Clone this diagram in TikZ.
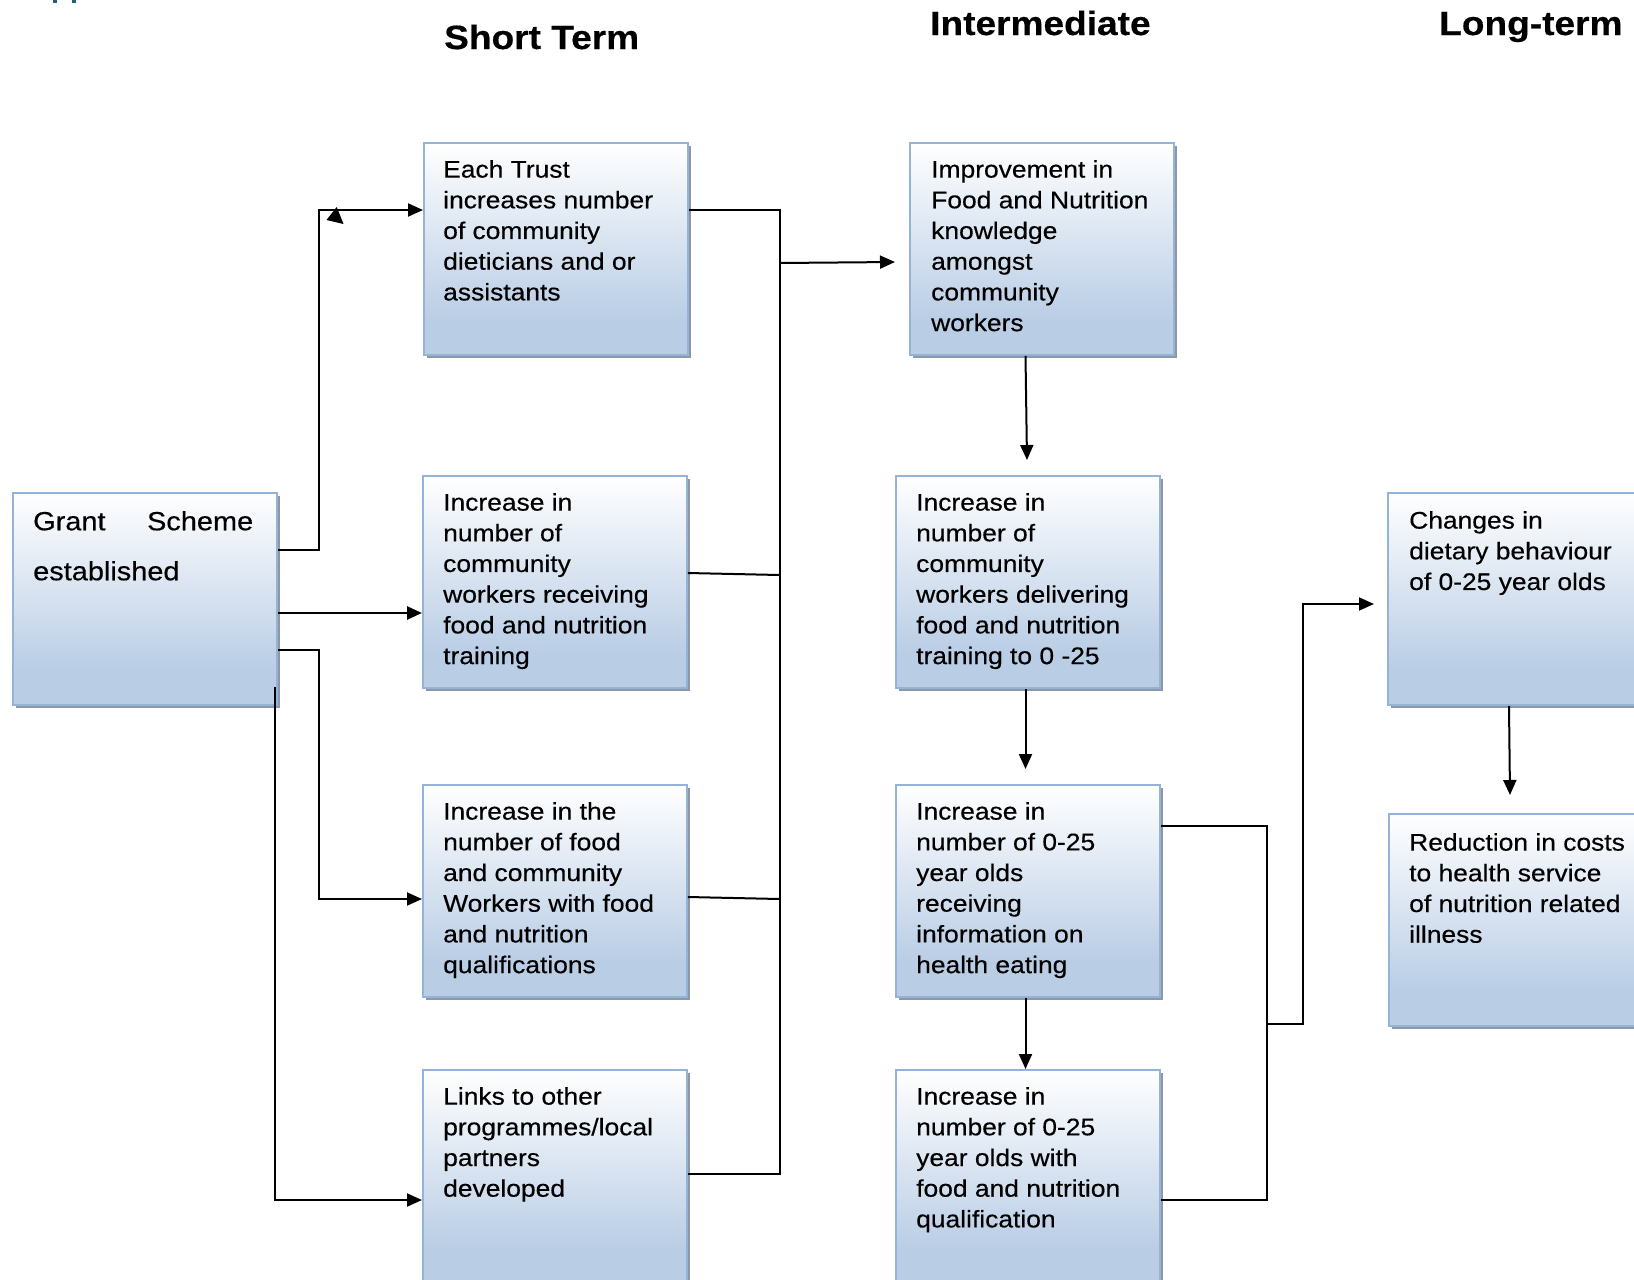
\documentclass[tikz,border=0pt]{standalone}
\usepackage{fontspec}
\setmainfont{Liberation Sans}[FakeStretch=1.1,FakeBold=0.4]
\usetikzlibrary{arrows.meta,shadows,calc}
\definecolor{bxblue}{RGB}{185,205,229}
\definecolor{bxline}{RGB}{149,179,215}
\definecolor{shcol}{RGB}{140,152,168}
\definecolor{hdteal}{RGB}{38,94,115}
\pgfdeclareverticalshading{boxshade}{100bp}{color(0bp)=(bxblue); color(33bp)=(bxblue); color(75bp)=(white); color(100bp)=(white)}
\begin{document}
\begin{tikzpicture}[x=1pt,y=-1pt,
  box/.style={draw=bxline, line width=1.8pt, shading=boxshade, anchor=north west,
    minimum width=264pt, minimum height=212pt, inner sep=0pt,
    general shadow={fill=shcol, shadow xshift=3pt, shadow yshift=-3pt}},
  txt/.style={anchor=north west, inner sep=0pt, align=left, font=\fontsize{24pt}{30.7pt}\selectfont},
  hdr/.style={anchor=base west, inner sep=0pt, font=\bfseries\fontsize{33.7pt}{36pt}\selectfont},
  conn/.style={draw=black, line width=2pt},
  arr/.style={conn, -{Triangle[length=15pt,width=13pt]}}]
\useasboundingbox (0,0) rectangle (1634,1280);
\clip (0,0) rectangle (1634,1280);
\fill[white] (0,0) rectangle (1634,1280);
% cut-off heading fragments
\fill[hdteal] (53.3,0) rectangle (57.3,3.3);
\fill[hdteal] (72.3,0) rectangle (76.3,3.3);
% headers
\node[hdr] (h1) at (444,49) {Short Term};
\node[hdr] (h2) at (930,35) {Intermediate};
\node[hdr] (h3) at (1439,35) {Long-term};
% boxes
\node[box] (grant) at (12,492) {};
\node[box] (trust) at (423,142) {};
\node[box] (recv) at (422,475) {};
\node[box] (quals) at (422,784) {};
\node[box, minimum height=214pt] (links) at (422,1069) {};
\node[box] (impr) at (909,142) {};
\node[box] (deliv) at (895,475) {};
\node[box] (info) at (895,784) {};
\node[box, minimum height=214pt] (qual) at (895,1069) {};
\node[box] (changes) at (1387,492) {};
\node[box] (reduct) at (1388,813) {};
% texts
\node[txt, font=\fontsize{26.3pt}{50pt}\selectfont] (tgrant) at (33,511) {\hbox to 220pt{Grant\hfill Scheme}\\established};
\node[txt] (ttrust) at (443,160) {Each Trust\\increases number\\of community\\dieticians and or\\assistants};
\node[txt] (trecv) at (443,493) {Increase in\\number of\\community\\workers receiving\\food and nutrition\\training};
\node[txt] (tquals) at (443,802) {Increase in the\\number of food\\and community\\Workers with food\\and nutrition\\qualifications};
\node[txt] (tlinks) at (443,1087) {Links to other\\programmes/local\\partners\\developed};
\node[txt] (timpr) at (931,160) {Improvement in\\Food and Nutrition\\knowledge\\amongst\\community\\workers};
\node[txt] (tdeliv) at (916,493) {Increase in\\number of\\community\\workers delivering\\food and nutrition\\training to 0 -25};
\node[txt] (tinfo) at (916,802) {Increase in\\number of 0-25\\year olds\\receiving\\information on\\health eating};
\node[txt] (tqual) at (916,1087) {Increase in\\number of 0-25\\year olds with\\food and nutrition\\qualification};
\node[txt] (tchanges) at (1409,511) {Changes in\\dietary behaviour\\of 0-25 year olds};
\node[txt] (treduct) at (1409,833) {Reduction in costs\\to health service\\of nutrition related\\illness};
% connectors from grant
\draw[arr] (grant.east |- 0,550) -| (319,210) -- (trust.west |- 0,210);
\fill (336.7,207) -- (326.5,220) -- (343.5,224) -- cycle;
\draw[conn] (grant.east |- 0,613) -- (305,613);
\draw[arr, line width=2.6pt] (305,613) -- (recv.west |- 0,613);
\draw[arr] (grant.east |- 0,650) -| (319,899) -- (quals.west |- 0,899);
\draw[arr] (275,687) |- (links.west |- 0,1200);
% collector of short term
\draw[conn] (trust.east |- 0,210) -| (779.5,1174) -- (links.east |- 0,1174);
\draw[conn] (recv.east |- 0,573) -- (779.5,575);
\draw[conn] (quals.east |- 0,897) -- (779.5,899);
\coordinate (imprin) at ($(impr.west |- 0,262)+(-14,0)$);
\draw[arr] (779.5,263) -- (imprin);
% intermediate chain
\coordinate (delivin) at (1027,460);
\draw[arr] (1025.5,0 |- impr.south) -- (delivin);
\coordinate (infoin) at (1025.5,769);
\draw[arr] (1025.5,0 |- deliv.south) -- (infoin);
\draw[arr] (1025.5,0 |- info.south) -- (1025.5,0 |- qual.north);
% bracket to long term
\draw[conn] (info.east |- 0,826) -| (1267,1200) -- (qual.east |- 0,1200);
\coordinate (changesin) at ($(changes.west |- 0,604)+(-13,0)$);
\draw[arr] (1267,1024) -| (1303,604) -- (changesin);
\coordinate (reductin) at (1510,795);
\draw[arr] (1509,0 |- changes.south) -- (reductin);
\end{tikzpicture}
\end{document}
